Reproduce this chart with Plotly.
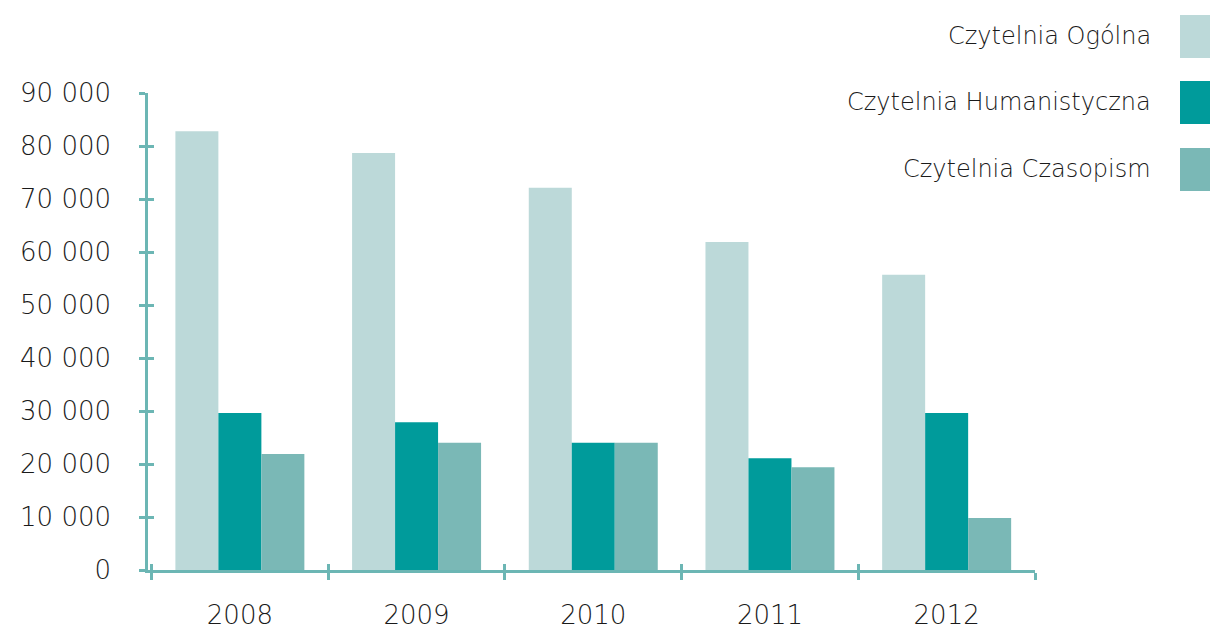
import plotly.graph_objects as go

years = ["2008", "2009", "2010", "2011", "2012"]
ogolna = [82800, 78700, 72100, 61900, 55700]
humanistyczna = [29600, 27900, 24000, 21100, 29600]
czasopism = [21900, 24000, 24000, 19400, 9800]
series_names = ["Czytelnia Ogólna", "Czytelnia Humanistyczna", "Czytelnia Czasopism"]
colors = ["#bcd9d9", "#009b9b", "#7ab8b6"]
y_ticks = [0, 10000, 20000, 30000, 40000, 50000, 60000, 70000, 80000, 90000]
y_ticktext = ["0", "10 000", "20 000", "30 000", "40 000", "50 000", "60 000", "70 000", "80 000", "90 000"]

W, H = 1218, 628
OFF = 8
L, T = 148 - OFF, 93 - OFF
R = W - (1035 - OFF)
B = H - (570 - OFF)
FONT = "DejaVu Sans"
AXC = "#6cb6b4"
TXT = "#1a1a1a"
FS = 24
TFS = 26

fig = go.Figure()
for name, vals, c in zip(series_names, [ogolna, humanistyczna, czasopism], colors):
    fig.add_trace(go.Bar(x=years, y=vals, name=name, marker=dict(color=c, line=dict(width=0)),
                         showlegend=False))
# invisible helper trace for overlay axes (inside ticks)
fig.add_trace(go.Scatter(x=years, y=[None]*len(years), xaxis="x2", yaxis="y2",
                         showlegend=False, hoverinfo="skip", mode="markers"))

pw = W - L - R
ph = H - T - B
def px_x(x):
    return (x - OFF - L) / pw
def px_y(y):
    return (H - B - (y - OFF)) / ph

leg_rows = [(15, 58), (81, 124), (148, 191)]
for (y0, y1), name, c in zip(leg_rows, series_names, colors):
    fig.add_shape(type="rect", xref="paper", yref="paper",
                  x0=px_x(1180), x1=px_x(1226), y0=px_y(y1), y1=px_y(y0),
                  fillcolor=c, line=dict(width=0))
    fig.add_annotation(xref="paper", yref="paper", x=px_x(1153), y=px_y((y0 + y1) / 2 - 1),
                       text=name, showarrow=False, xanchor="right", yanchor="middle",
                       font=dict(family=FONT, size=FS, color=TXT, weight=300))

XR = [-0.52, 4.5]
fig.update_layout(
    width=W, height=H,
    margin=dict(l=L, r=R, t=T, b=B, autoexpand=False),
    paper_bgcolor="white", plot_bgcolor="white",
    barmode="group", bargap=0.27, bargroupgap=0,
    font=dict(family=FONT, size=FS, color=TXT, weight=300),
    xaxis=dict(type="category", categoryarray=years, range=XR, showgrid=False, zeroline=False,
               automargin=False,
               showline=True, linecolor=AXC, linewidth=2.5,
               ticks="outside", tickson="boundaries", ticklen=7, tickwidth=2.5, tickcolor=AXC,
               ticklabelstandoff=20, tickfont=dict(family=FONT, size=TFS, color=TXT, weight=300)),
    xaxis2=dict(type="category", categoryarray=years, range=XR, overlaying="x", matches="x", showgrid=False,
                zeroline=False, showline=False, ticks="inside", tickson="boundaries", automargin=False,
                ticklen=6, tickwidth=2.5, tickcolor=AXC, showticklabels=False),
    yaxis=dict(range=[0, 90000], tickvals=y_ticks, ticktext=y_ticktext, showgrid=False,
               zeroline=False, showline=True, linecolor=AXC, linewidth=2.5, automargin=False,
               ticks="outside", ticklen=6, tickwidth=2.5, tickcolor=AXC,
               ticklabelstandoff=23, tickfont=dict(family=FONT, size=TFS, color=TXT, weight=300)),
    yaxis2=dict(range=[0, 90000], overlaying="y", matches="y", tickvals=y_ticks, showgrid=False,
                zeroline=False, showline=False, ticks="inside", ticklen=6, tickwidth=2.5, automargin=False,
                tickcolor=AXC, showticklabels=False),
)

fig.write_html("out.html")
